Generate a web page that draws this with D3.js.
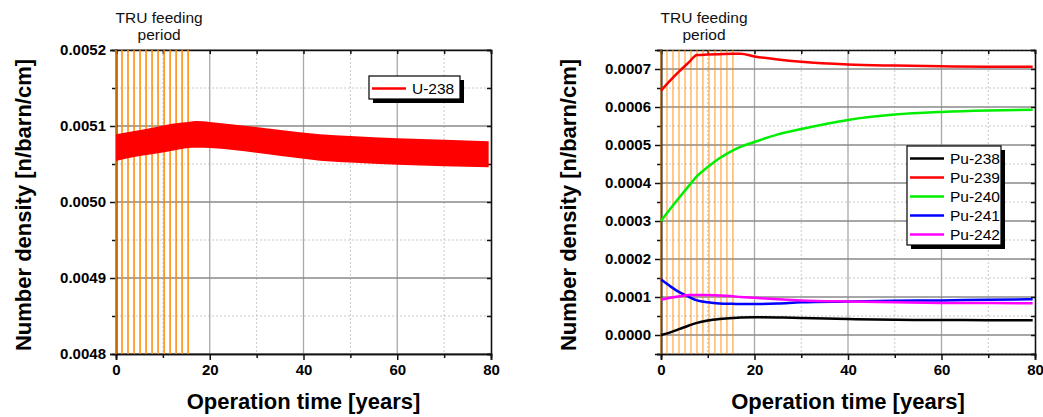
<!DOCTYPE html>
<html>
<head>
<meta charset="utf-8">
<script src="https://cdn.jsdelivr.net/npm/d3@7"></script>
<style>
  body { margin: 0; background: #fff; }
  svg { display: block; font-family: 'Liberation Sans', Arial, sans-serif; }
  .tick text { font-weight: bold; font-size: 15px; }
</style>
</head>
<body>
<svg width="1043" height="417"></svg>
<script>
// ---- data ----
let xTicks = [0, 20, 40, 60, 80];
let xMinor = [10, 30, 50, 70];
let leftYTicks = [0.0048, 0.0049, 0.0050, 0.0051, 0.0052];
let rightYTicks = [0, 0.0001, 0.0002, 0.0003, 0.0004, 0.0005, 0.0006, 0.0007];

// TRU feeding times (orange vertical lines)
let feedTimes = [0, 1.28, 2.56, 3.85, 5.13, 6.41, 7.69, 8.97, 10.26, 11.54, 12.82, 14.1, 15.38];

// U-238 band (oscillation envelope)
let u238Years = [0, 3.6, 8, 12, 15.4, 17.2, 20, 25, 32, 39.2, 43.5, 50, 60, 70, 79.5];
let u238Upper = [0.005089, 0.005093, 0.005098, 0.005103, 0.0051053, 0.0051066, 0.0051053, 0.005102, 0.005097, 0.0050917, 0.005089, 0.005087, 0.005084, 0.005082, 0.00508];
let u238Lower = [0.005054, 0.005059, 0.005063, 0.0050675, 0.005071, 0.0050715, 0.005071, 0.0050684, 0.0050632, 0.0050575, 0.0050543, 0.005052, 0.005049, 0.005047, 0.0050457];

// Pu isotopes (x1e-4 n/barn/cm)
let puYears = [0, 2, 4, 6, 7.7, 10, 12.5, 15.4, 17, 20, 25, 30, 40, 50, 60, 70, 79.5];
let pu238 = [0.0, 0.07, 0.16, 0.25, 0.32, 0.38, 0.42, 0.45, 0.46, 0.465, 0.46, 0.45, 0.42, 0.40, 0.395, 0.39, 0.39];
let pu239 = [6.43, 6.70, 6.95, 7.18, 7.37, 7.38, 7.39, 7.40, 7.40, 7.33, 7.25, 7.19, 7.12, 7.09, 7.07, 7.06, 7.06];
let pu240 = [3.0, 3.32, 3.63, 3.93, 4.18, 4.42, 4.65, 4.86, 4.95, 5.08, 5.28, 5.42, 5.66, 5.80, 5.87, 5.91, 5.93];
let pu241 = [1.46, 1.28, 1.12, 1.0, 0.91, 0.86, 0.83, 0.82, 0.815, 0.815, 0.83, 0.86, 0.88, 0.90, 0.91, 0.93, 0.94];
let pu242 = [0.93, 0.98, 1.02, 1.05, 1.055, 1.05, 1.04, 1.02, 1.00, 0.98, 0.94, 0.91, 0.88, 0.86, 0.845, 0.84, 0.834];

let puNames = ['Pu-238', 'Pu-239', 'Pu-240', 'Pu-241', 'Pu-242'];
let puColors = ['#000000', '#ff0000', '#00ee00', '#0000ff', '#ff00ff'];
let puSeries = [pu238, pu239, pu240, pu241, pu242];

let svg = d3.select('svg');
let plotTop = 50, plotBottom = 354;

const drawFrame = (g, x, y, yTicks, yMinor) => {
    let [x0, x1] = x.range();

    // minor grid (dotted)
    g.selectAll('.vmin').data(xMinor).enter().append('line')
        .attr('x1', d => x(d)).attr('x2', d => x(d))
        .attr('y1', plotTop).attr('y2', plotBottom)
        .attr('stroke', '#c8c8c8').attr('stroke-dasharray', '2,2')
    g.selectAll('.hmin').data(yMinor).enter().append('line')
        .attr('x1', x0).attr('x2', x1)
        .attr('y1', d => y(d)).attr('y2', d => y(d))
        .attr('stroke', '#c8c8c8').attr('stroke-dasharray', '2,2')

    // major grid
    g.selectAll('.vmaj').data(xTicks.slice(1, -1)).enter().append('line')
        .attr('x1', d => x(d)).attr('x2', d => x(d))
        .attr('y1', plotTop).attr('y2', plotBottom)
        .attr('stroke', '#a8a8a8').attr('stroke-width', 1.3)
    g.selectAll('.hmaj').data(yTicks).enter().append('line')
        .attr('x1', x0).attr('x2', x1)
        .attr('y1', d => y(d)).attr('y2', d => y(d))
        .attr('stroke', '#8a8a8a').attr('stroke-width', 1.3)

    // axes
    let fmt = d3.format('.4f');
    g.append('g')
        .attr('transform', `translate(0, ${plotBottom})`)
        .call(d3.axisBottom(x).tickValues(xTicks).tickSize(6).tickPadding(4))
    g.append('g')
        .attr('transform', `translate(0, ${plotBottom})`)
        .call(d3.axisBottom(x).tickValues(xMinor).tickSize(4).tickFormat(''))
    g.append('g')
        .attr('transform', `translate(${x0}, 0)`)
        .call(d3.axisLeft(y).tickValues(yTicks).tickSize(6).tickPadding(4).tickFormat(fmt))
    g.append('g')
        .attr('transform', `translate(${x0}, 0)`)
        .call(d3.axisLeft(y).tickValues(yMinor).tickSize(4).tickFormat(''))
    // mirrored top / right, ticks inward
    g.append('g')
        .attr('transform', `translate(0, ${plotTop})`)
        .call(d3.axisBottom(x).tickValues(xTicks.concat(xMinor)).tickSize(4).tickFormat(''))
    g.append('g')
        .attr('transform', `translate(${x1}, 0)`)
        .call(d3.axisLeft(y).tickValues(yTicks.concat(yMinor)).tickSize(4).tickFormat(''))

    g.selectAll('.domain').attr('stroke', '#111').attr('stroke-width', 1.6)
    g.selectAll('.tick line').attr('stroke', '#111').attr('stroke-width', 1.5)
    g.selectAll('.tick text').attr('fill', '#000')
};

const drawTitles = (g, x, titleX) => {
    let [x0, x1] = x.range();
    g.append('text')
        .attr('x', (x0 + x1) / 2).attr('y', 409)
        .attr('text-anchor', 'middle')
        .attr('font-size', 22).attr('font-weight', 'bold')
        .text('Operation time [years]')
    g.append('text')
        .attr('transform', `translate(${titleX}, ${(plotTop + plotBottom) / 2 + 3}) rotate(-90)`)
        .attr('text-anchor', 'middle')
        .attr('font-size', 22).attr('font-weight', 'bold')
        .text('Number density [n/barn/cm]')
    let t = g.append('text')
        .attr('text-anchor', 'middle')
        .attr('font-size', 15.5)
        .attr('fill', '#111')
    t.append('tspan').attr('x', x(9.2)).attr('y', 23).text('TRU feeding')
    t.append('tspan').attr('x', x(9.2)).attr('y', 40).text('period')
};

const drawFeeding = (g, x, color, opacity) => {
    g.selectAll('.feed').data(feedTimes).enter().append('line')
        .attr('x1', d => x(d)).attr('x2', d => x(d))
        .attr('y1', plotTop).attr('y2', plotBottom)
        .attr('stroke', color).attr('stroke-opacity', opacity)
        .attr('stroke-width', 1.5)
};

const drawLegend = (g, lx, ly, w, names, colors) => {
    let rowH = 19;
    let h = names.length * rowH + 4;
    g.append('rect')
        .attr('x', lx + 4).attr('y', ly + 4)
        .attr('width', w).attr('height', h)
        .attr('fill', '#000')
    g.append('rect')
        .attr('x', lx).attr('y', ly)
        .attr('width', w).attr('height', h)
        .attr('fill', '#fff').attr('stroke', '#000').attr('stroke-width', 1.2)
    names.forEach((n, i) => {
        let cy = ly + 2 + rowH * i + rowH / 2 + 1;
        g.append('line')
            .attr('x1', lx + 3).attr('x2', lx + 37)
            .attr('y1', cy).attr('y2', cy)
            .attr('stroke', colors[i]).attr('stroke-width', 2.5)
        g.append('text')
            .attr('x', lx + 43).attr('y', cy + 5.5)
            .attr('font-size', 15.5)
            .text(n)
    })
};

// ---- left panel: U-238 ----
let xL = d3.scaleLinear().domain([0, 80]).range([116, 491]);
let yL = d3.scaleLinear().domain([0.0048, 0.0052]).range([plotBottom, plotTop]);
let gL = svg.append('g');
drawFrame(gL, xL, yL, leftYTicks, [0.00485, 0.00495, 0.00505, 0.00515]);
drawFeeding(gL, xL, '#ff8800', 1);

let band = d3.area()
    .x((d, i) => xL(u238Years[i]))
    .y0((d, i) => yL(u238Lower[i]))
    .y1((d, i) => yL(u238Upper[i]))
    .curve(d3.curveMonotoneX);
gL.append('path')
    .datum(u238Years)
    .attr('d', band)
    .attr('fill', '#ff0000')
drawLegend(gL, 369, 76, 91, ['U-238'], ['#ff0000']);
drawTitles(gL, xL, 31);

// ---- right panel: Pu isotopes ----
let xR = d3.scaleLinear().domain([0, 80]).range([661, 1035]);
let yR = d3.scaleLinear().domain([-0.00005, 0.00075]).range([plotBottom, plotTop]);
let gR = svg.append('g');
drawFrame(gR, xR, yR, rightYTicks, [-0.00005, 0.00005, 0.00015, 0.00025, 0.00035, 0.00045, 0.00055, 0.00065, 0.00075]);
drawFeeding(gR, xR, '#ff8800', 0.6);

let line = d3.line()
    .x((d, i) => xR(puYears[i]))
    .y(d => yR(d * 1e-4))
    .curve(d3.curveMonotoneX);
puSeries.forEach((s, i) => {
    gR.append('path')
        .datum(s)
        .attr('d', line)
        .attr('fill', 'none')
        .attr('stroke', puColors[i])
        .attr('stroke-width', 2.5)
});
drawLegend(gR, 907, 146, 94, puNames, puColors);
drawTitles(gR, xR, 576);
</script>
</body>
</html>
